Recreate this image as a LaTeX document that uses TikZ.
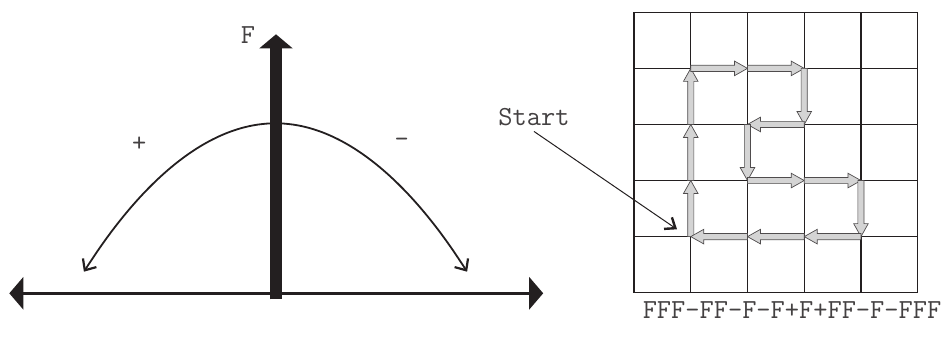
\documentclass[tikz,border=0pt]{standalone}
\usepackage{fontspec}
\usetikzlibrary{arrows.meta,calc}
\definecolor{ink}{RGB}{35,31,32}
\definecolor{arrowfill}{RGB}{212,212,212}
\newcommand\fatarr[2]{%
  \coordinate (h) at ($(#2)!13pt!(#1)$);
  \draw[fatstyle] ($(#1)!3.1pt!90:(#2)$) -- ($(h)!3.1pt!90:(#2)$) -- ($(h)!7.3pt!90:(#2)$) -- (#2)
     -- ($(h)!7.3pt!-90:(#2)$) -- ($(h)!3.1pt!-90:(#2)$) -- ($(#1)!3.1pt!-90:(#2)$) -- cycle;}
\tikzset{
  lbl/.style={font=\ttfamily\fontsize{27.6}{32}\selectfont, text=ink!85, inner sep=5pt},
  axisline/.style={draw=ink, line width=3pt, {Triangle[length=14pt,width=32pt]}-{Triangle[length=14pt,width=32pt]}},
  forceline/.style={draw=ink, line width=12.5pt, -{Triangle[length=14pt,width=32.5pt]}},
  arcline/.style={draw=ink, line width=1.8pt, {Straight Barb[length=9pt,width=16pt,line width=2.2pt]}-{Straight Barb[length=9pt,width=16pt,line width=2.2pt]}},
  gridline/.style={draw=ink, line width=1.1pt},
  fatstyle/.style={draw=ink!80, fill=arrowfill, line width=0.7pt, line join=miter},
  pointer/.style={draw=ink, line width=1pt, -{Straight Barb[length=9pt,width=14pt,line width=2.4pt]}}
}
\begin{document}
\begin{tikzpicture}[x=1pt,y=-1pt]
\useasboundingbox (0,0) rectangle (947,340);
% ---- left figure ----
\coordinate (axL) at (9.3,293.3);
\coordinate (axR) at (543.2,293.3);
\coordinate (fB) at (276,299.3);
\coordinate (fT) at (276,34.3);
\coordinate (arcL) at (83.9,271.7);
\coordinate (arcTop) at (275.5,123.3);
\coordinate (arcR) at (467.1,271.7);
\draw[axisline] (axL) -- (axR);
\draw[arcline] (arcL) parabola bend (arcTop) (arcR);
\draw[forceline] (fB) -- (fT);
\node[lbl] (flabel) at (248,35) {F};
\node[lbl] (plus) at (139.3,144) {+};
\node[lbl] (minus) at (401.8,143) {-};
% ---- grid ----
\foreach \i in {0,...,5}{
  \foreach \j in {0,...,5}{
    \coordinate (p-\i-\j) at ({634+56.74*\i},{12.3+56.08*\j});
  }
}
\foreach \k in {0,...,5}{
  \draw[gridline] (p-\k-0) -- (p-\k-5);
  \draw[gridline] (p-0-\k) -- (p-5-\k);
}
% ---- turtle path ----
\foreach \a/\b in {1-4/1-3, 1-3/1-2, 1-2/1-1, 1-1/2-1, 2-1/3-1, 3-1/3-2, 3-2/2-2, 2-2/2-3, 2-3/3-3, 3-3/4-3, 4-3/4-4, 4-4/3-4, 3-4/2-4, 2-4/1-4}{
  \fatarr{p-\a}{p-\b}
}
% ---- start label ----
\node[lbl] (start) at (534,117.5) {Start};
\coordinate (starttip) at (677,229.3);
\draw[pointer] (start.south) -- (starttip);
% ---- program string ----
\node[lbl] (prog) at (792,310) {FFF-FF-F-F+F+FF-F-FFF};
\end{tikzpicture}
\end{document}
